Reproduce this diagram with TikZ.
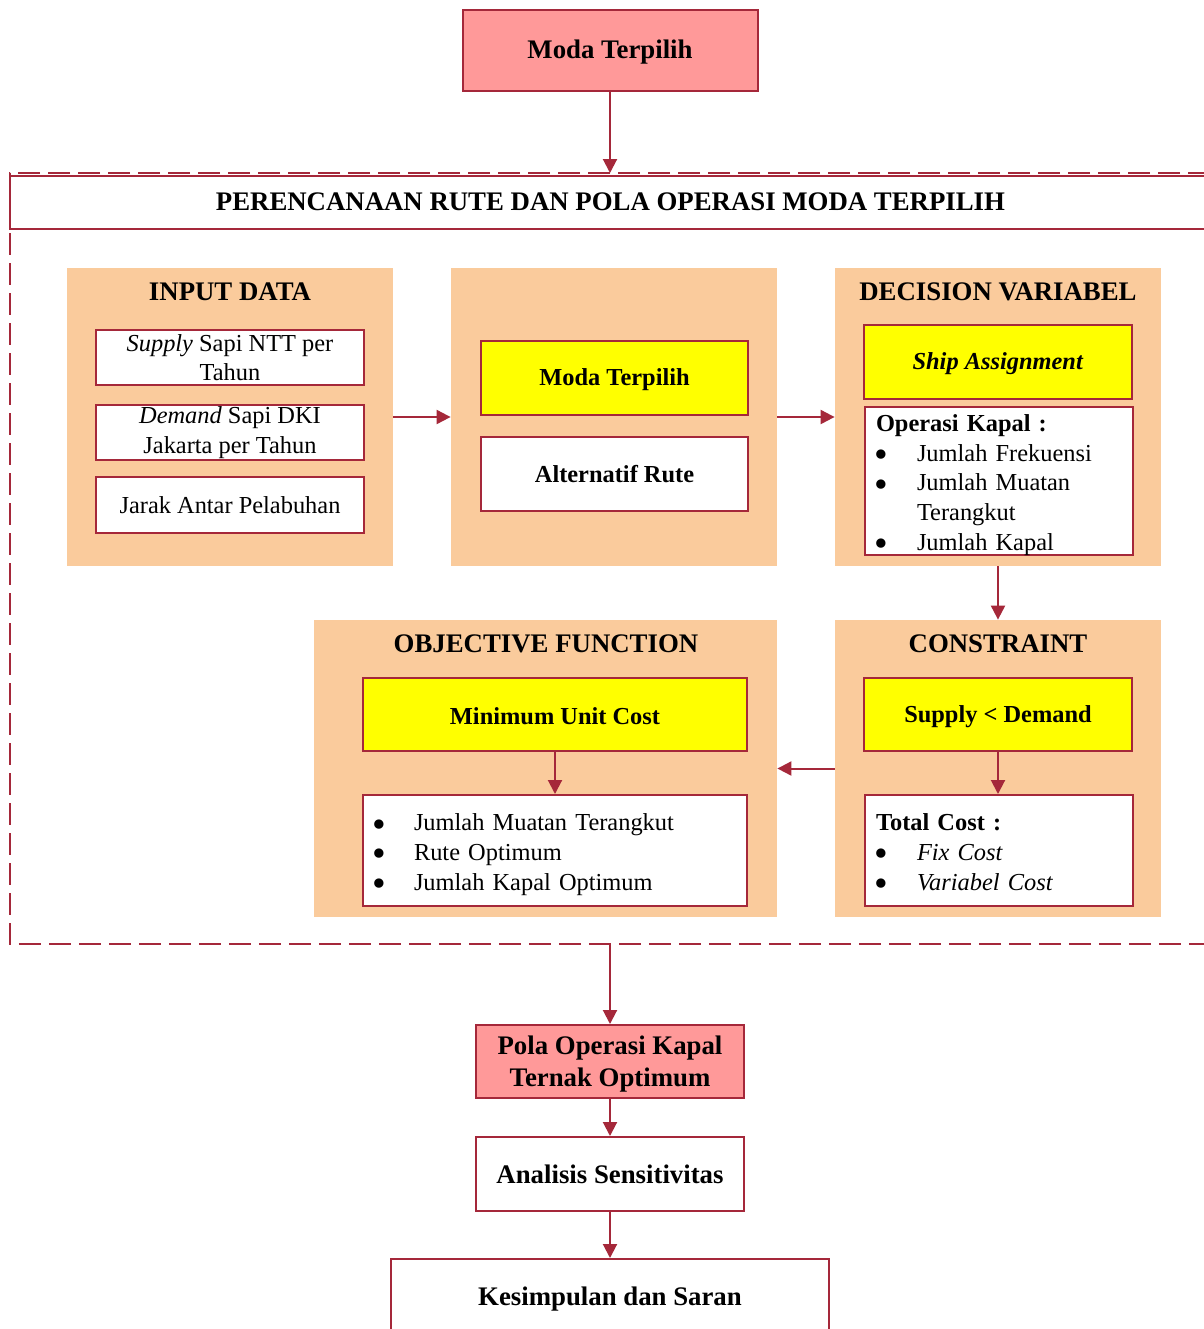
\documentclass[tikz,border=0pt]{standalone}
\usepackage{fontspec}
\usepackage{graphicx}
\setmainfont{Liberation Serif}
\usetikzlibrary{arrows.meta}
\definecolor{dred}{RGB}{165,40,58}
\definecolor{pinkf}{RGB}{255,153,153}
\definecolor{peach}{RGB}{250,203,156}
\definecolor{yel}{RGB}{255,255,0}
\newcommand{\bodyf}{\fontsize{12.2pt}{14.8pt}\selectfont}
\newcommand{\bigf}{\fontsize{13.4pt}{16pt}\selectfont\bfseries}
\newcommand{\midf}{\fontsize{12.2pt}{15pt}\selectfont\bfseries}
\newcommand{\bigdot}{\smash{\raisebox{-0.26em}{\scalebox{1.6}{\textbullet}}}}
\newcommand{\lowered}[2][2pt]{\raisebox{-#1}[\height][\depth]{#2}}
\begin{document}
\begin{tikzpicture}[x=0.5pt,y=-0.5pt,
  every node/.style={font=\bodyf},
  box/.style={draw=dred,line width=1pt,inner sep=0pt,align=center},
  whitebox/.style={box,fill=white},
  yelbox/.style={box,fill=yel,font=\midf},
  pinkbox/.style={box,fill=pinkf,font=\bigf},
  panel/.style={fill=peach,draw=none,inner sep=0pt},
  ptitle/.style={font=\bigf,inner sep=0pt},
  arr/.style={draw=dred,line width=1pt,-{Triangle[length=7pt,width=7pt]}},
  frame/.style={draw=dred,line width=1.2pt,dash pattern=on 11pt off 4pt}]
\clip (0,0) rectangle (1204,1329);
\fill[white] (0,0) rectangle (1204,1329);

% top box
\node[pinkbox,minimum width=147.5pt,minimum height=40.5pt] (top) at (610,50.5) {\lowered[1pt]{Moda Terpilih}};

% dashed frame and title band
\draw[frame] (1240,173) -- (10,173) -- (10,944) -- (1240,944);
\draw[dred,line width=1pt] (1240,176) -- (10,176) -- (10,229) -- (1240,229);
\node[ptitle] (title) at (610.5,202) {PERENCANAAN RUTE DAN POLA OPERASI MODA TERPILIH};
\coordinate (ftop) at (610,173);
\coordinate (fbot) at (610,944);

% panels
\node[panel,minimum width=163pt,minimum height=149pt] (pin) at (230,417) {};
\node[panel,minimum width=163pt,minimum height=149pt] (pmid) at (614,417) {};
\node[panel,minimum width=163pt,minimum height=149pt] (pdv) at (998,417) {};
\node[panel,minimum width=163pt,minimum height=148.5pt] (pcon) at (998,768.5) {};
\node[panel,minimum width=231.5pt,minimum height=148.5pt] (pobj) at (545.5,768.5) {};

% input data
\node[ptitle] (tin) at (230,292) {INPUT DATA};
\node[whitebox,minimum width=134pt,minimum height=27.5pt] (in1) at (230,357.5) {\textit{Supply} Sapi NTT per\\Tahun};
\node[whitebox,minimum width=134pt,minimum height=27.5pt] (in2) at (230,432.5) {\textit{Demand} Sapi DKI\\Jakarta per Tahun};
\node[whitebox,minimum width=134pt,minimum height=28pt] (in3) at (230,505) {Jarak Antar Pelabuhan};

% middle
\node[yelbox,minimum width=133.5pt,minimum height=37pt] (moda) at (614.5,378) {\lowered[1pt]{Moda Terpilih}};
\node[whitebox,font=\midf,minimum width=133.5pt,minimum height=37pt] (alt) at (614.5,474) {Alternatif Rute};

% decision variabel
\node[ptitle] (tdv) at (998,292) {DECISION VARIABEL};
\node[yelbox,minimum width=134pt,minimum height=37pt] (ship) at (998,362) {\lowered[1pt]{\textit{Ship Assignment}}};
\node[whitebox,align=left,text width=134pt,minimum height=73pt] (ops) at (999,481) {%
\noindent\lowered{\begin{tabular}{@{\hspace{4.5pt}}p{21.5pt}@{}l@{}}
\multicolumn{2}{@{\hspace{5.5pt}}l}{\textbf{Operasi Kapal :}}\\
\bigdot & Jumlah Frekuensi\\
\bigdot & Jumlah Muatan\\
 & Terangkut\\
\bigdot & Jumlah Kapal
\end{tabular}}};

% constraint
\node[ptitle] (tcon) at (998,644) {CONSTRAINT};
\node[yelbox,minimum width=134pt,minimum height=36.5pt] (sd) at (998,714.5) {\lowered[1pt]{Supply < Demand}};
\node[whitebox,align=left,text width=134pt,minimum height=55.5pt] (tc) at (999,850.5) {%
\noindent\lowered{\begin{tabular}{@{\hspace{4.5pt}}p{21.5pt}@{}l@{}}
\multicolumn{2}{@{\hspace{5.5pt}}l}{\textbf{Total Cost :}}\\
\bigdot & \textit{Fix Cost}\\
\bigdot & \textit{Variabel Cost}
\end{tabular}}};

% objective function
\node[ptitle] (tobj) at (546,644) {OBJECTIVE FUNCTION};
\node[yelbox,minimum width=192pt,minimum height=36.5pt] (muc) at (555,714.5) {\lowered[1pt]{Minimum Unit Cost}};
\node[whitebox,align=left,text width=192pt,minimum height=55.5pt] (ml) at (555,850.5) {%
\noindent\lowered{\begin{tabular}{@{\hspace{4.5pt}}p{21pt}@{}l@{}}
\bigdot & Jumlah Muatan Terangkut\\
\bigdot & Rute Optimum\\
\bigdot & Jumlah Kapal Optimum
\end{tabular}}};

% bottom chain
\node[pinkbox,minimum width=134pt,minimum height=36.5pt] (pola) at (610,1061.5) {\lowered[1.5pt]{\begin{tabular}{@{}c@{}}Pola Operasi Kapal\\Ternak Optimum\end{tabular}}};
\node[whitebox,font=\bigf,minimum width=134pt,minimum height=37pt] (anal) at (610,1174) {Analisis Sensitivitas};
\node[whitebox,font=\bigf,minimum width=219pt,minimum height=40pt] (kes) at (610,1299) {Kesimpulan dan Saran};

% connectors
\draw[arr] (top) -- (ftop);
\draw[arr] (pin.east) -- (pmid.west);
\draw[arr] (pmid.east) -- (pdv.west);
\draw[arr] (pdv.south) -- (pcon.north);
\draw[arr] (pcon.west) -- (pobj.east);
\draw[arr] (muc) -- (ml);
\draw[arr] (sd.south) -- (tc.north -| sd.south);
\draw[arr] (fbot) -- (pola);
\draw[arr] (pola) -- (anal);
\draw[arr] (anal) -- (kes);
\end{tikzpicture}
\end{document}
